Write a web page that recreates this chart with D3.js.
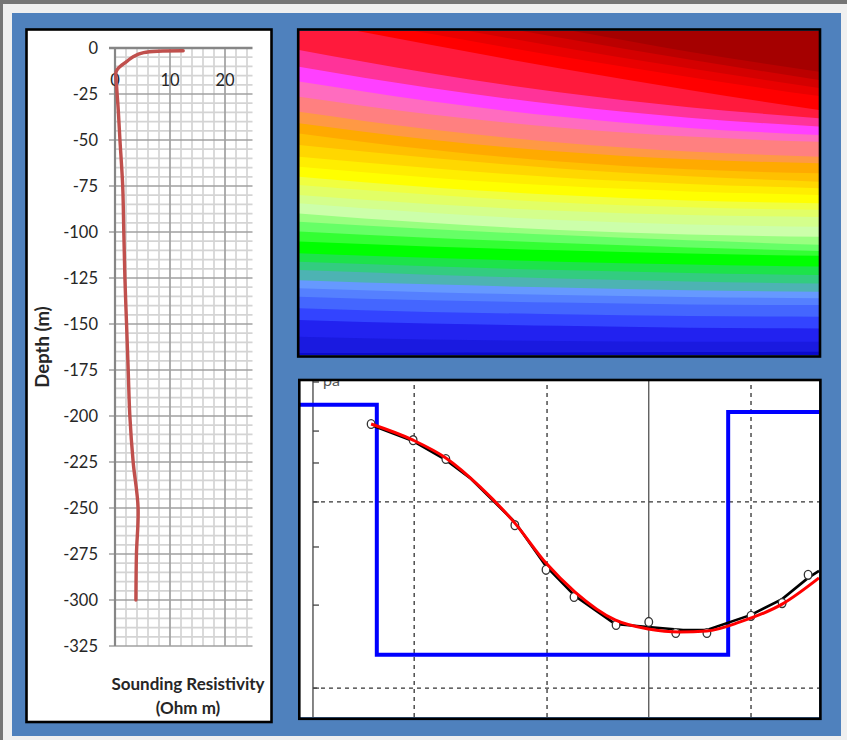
<!DOCTYPE html>
<html><head><meta charset="utf-8">
<script src="https://cdn.jsdelivr.net/npm/d3@7"></script>
<style>html,body{margin:0;padding:0;background:#f0f0f0;} svg{display:block;}</style>
</head><body>
<svg id="c" width="847" height="740"></svg>
<script>
// ---------- Left chart: sounding resistivity vs depth ----------
const soundDepth = [-1.5, -2.5, -4.7, -7.4, -11, -13, -21, -34, -50, -75, -100, -125, -150, -175, -200, -225, -250, -275, -300];
const soundRes   = [12.4, 5.2, 3.3, 2.1, 0.6, 0.2, 0.3, 0.6, 0.9, 1.4, 1.6, 1.8, 2.1, 2.4, 2.7, 3.3, 4.2, 3.9, 3.8];
const depthTicks = [0, -25, -50, -75, -100, -125, -150, -175, -200, -225, -250, -275, -300, -325];
const resTicks = [0, 10, 20];

// ---------- Top-right: pseudo-section colour bands ----------
const sectionX = [0, 25, 50, 75, 100];
const bandColors = ["#a50000","#bb0000","#d40000","#ea0000","#ff0000","#ff1a3c","#ff3399","#ff40ff","#ff6cbf","#ff8080",
  "#ff9944","#ffaa00","#ffc000","#ffd700","#ffee00","#ffff00","#f0ff40","#e2ff66","#d4ff8c","#ccffaa",
  "#99ff80","#66ff66","#33ff33","#00ff00","#1de34a","#33cc80","#4db3b3","#6699ff","#5580ff","#4466ff",
  "#3344ff","#2222f0","#1a1ae0","#0a0acc"];
const bandLower = [
  [-16.2, -8.2, -0.8, 6.4, 12.6],
  [-13.0, -5.2, 2.0, 8.8, 15.1],
  [-9.8, -2.2, 4.9, 11.5, 17.6],
  [-6.6, 0.8, 7.8, 14.2, 20.1],
  [-3.5, 4.2, 11.5, 18.2, 24.4],
  [5.9, 13.0, 18.9, 23.5, 26.9],
  [11.0, 17.5, 22.8, 26.8, 29.5],
  [15.6, 21.6, 26.4, 29.9, 32.1],
  [20.3, 25.7, 29.8, 32.6, 34.2],
  [24.9, 30.3, 34.4, 37.2, 38.8],
  [28.5, 33.5, 37.2, 39.6, 40.8],
  [31.6, 36.6, 40.3, 42.7, 43.9],
  [35.2, 39.1, 42.4, 44.8, 46.5],
  [38.8, 42.3, 45.2, 47.2, 48.5],
  [41.9, 45.2, 47.8, 49.5, 50.6],
  [45.0, 48.2, 50.6, 52.3, 53.2],
  [47.5, 50.5, 52.9, 54.4, 55.2],
  [50.6, 53.4, 55.5, 56.8, 57.4],
  [53.2, 56.1, 58.3, 59.7, 60.4],
  [56.3, 59.2, 61.4, 62.8, 63.5],
  [58.9, 61.1, 63.0, 64.6, 66.0],
  [61.9, 63.8, 65.4, 66.8, 67.9],
  [65.0, 66.5, 67.7, 68.7, 69.4],
  [68.6, 70.0, 71.2, 72.1, 72.7],
  [71.2, 72.6, 73.8, 74.7, 75.3],
  [73.8, 75.2, 76.4, 77.3, 77.9],
  [76.9, 78.2, 79.2, 80.0, 80.5],
  [79.4, 80.6, 81.5, 82.1, 82.5],
  [82.0, 83.1, 83.8, 84.4, 84.6],
  [85.6, 86.7, 87.4, 88.0, 88.2],
  [89.2, 90.3, 91.0, 91.6, 91.8],
  [94.4, 95.2, 95.7, 95.9, 95.9],
  [99.4, 99.3, 99.2, 99.1, 99.0]
];

// ---------- Bottom-right: apparent resistivity curve ----------
const obsX   = [13.7, 21.8, 28.1, 41.4, 47.4, 52.8, 60.9, 67.2, 72.4, 78.4, 86.9, 92.9, 97.9];
const obsRho = [87.2, 82.4, 76.8, 57.1, 43.8, 35.7, 27.4, 28.3, 25.0, 25.0, 30.1, 33.9, 42.3];
const calcX   = [13.7, 21.8, 28.1, 32.8, 41.4, 47.4, 53.0, 60.7, 67.1, 73.8, 78.4, 86.9, 92.9, 97.9, 100];
const calcRho = [86.9, 82.1, 76.5, 71.1, 58.0, 44.9, 36.0, 27.7, 26.8, 25.9, 25.9, 30.4, 35.1, 41.4, 43.5];
const fitX   = [13.7, 21.8, 28.1, 34.7, 41.4, 47.4, 53.0, 60.7, 67.1, 73.2, 78.4, 84.8, 92.9, 100];
const fitRho = [87.2, 82.4, 77.1, 68.5, 57.7, 45.8, 37.2, 28.9, 26.2, 25.3, 25.6, 28.3, 33.6, 41.4];
const modelX   = [0, 14.8, 82.5, 100];
const modelRho = [92.9, 18.5, 90.8, 90.8];
const gridDashX = [22.0, 47.6, 86.9];
const gridSolidX = [67.2];
const gridDashY = [64.0, 8.6];
const rhoTicks = [99.7, 85.1, 75.6, 64.0, 50.6, 33.3, 8.6];

const FONT = "Lato, 'Open Sans', sans-serif";
const svg = d3.select('#c');

// frame
svg.append('rect').attr('width', 847).attr('height', 740).attr('fill', '#f0f0f0');
svg.append('rect').attr('x', 0).attr('y', 0).attr('width', 847).attr('height', 4).attr('fill', '#767676');
svg.append('rect').attr('x', 0).attr('y', 0).attr('width', 3).attr('height', 740).attr('fill', '#767676');
svg.append('rect').attr('x', 12).attr('y', 13).attr('width', 829).attr('height', 723).attr('fill', '#4f81bd');

// ===== Left panel =====
svg.append('rect').attr('x', 26.5).attr('y', 29.5).attr('width', 245).attr('height', 692.5)
  .attr('fill', '#fff').attr('stroke', '#000').attr('stroke-width', 2.6);

const xL = d3.scaleLinear().domain([0, 25]).range([115, 252.5]);
const yL = d3.scaleLinear().domain([-325, 0]).range([646, 48]);
const gL = svg.append('g');

const minorRes = d3.range(0, 25, 2).filter(v => v % 10 !== 0);
const minorDepth = d3.range(-325, 0.1, 5).filter(v => v % 25 !== 0);
gL.selectAll('.mv').data(minorRes).join('line')
  .attr('x1', d => xL(d)).attr('x2', d => xL(d)).attr('y1', yL(0)).attr('y2', yL(-325))
  .attr('stroke', '#d4d4d4').attr('stroke-width', 1.7);
gL.selectAll('.mh').data(minorDepth).join('line')
  .attr('x1', xL(0)).attr('x2', xL(25)).attr('y1', d => yL(d)).attr('y2', d => yL(d))
  .attr('stroke', '#d4d4d4').attr('stroke-width', 1.7);
gL.selectAll('.Mv').data(resTicks.filter(v => v !== 0)).join('line')
  .attr('x1', d => xL(d)).attr('x2', d => xL(d)).attr('y1', yL(0)).attr('y2', yL(-325))
  .attr('stroke', '#a0a0a0').attr('stroke-width', 1.7);
gL.selectAll('.Mh').data(depthTicks.filter(v => v !== 0)).join('line')
  .attr('x1', xL(0) - 6).attr('x2', xL(25)).attr('y1', d => yL(d)).attr('y2', d => yL(d))
  .attr('stroke', '#a0a0a0').attr('stroke-width', 1.7);
// axis lines
gL.append('line').attr('x1', xL(0)).attr('x2', xL(0)).attr('y1', yL(0)).attr('y2', yL(-325))
  .attr('stroke', '#868686').attr('stroke-width', 2.2);
gL.append('line').attr('x1', xL(0) - 6).attr('x2', xL(25)).attr('y1', yL(0)).attr('y2', yL(0))
  .attr('stroke', '#868686').attr('stroke-width', 2.4);

// tick labels
gL.selectAll('.yl').data(depthTicks).join('text')
  .attr('x', 98).attr('y', d => yL(d)).attr('dy', '0.36em').attr('text-anchor', 'end')
  .attr('font-family', FONT).attr('font-size', 16.5).attr('fill', '#262626').text(d => d);
gL.selectAll('.xl').data(resTicks).join('text')
  .attr('x', d => xL(d)).attr('y', 80).attr('dy', '0.36em').attr('text-anchor', 'middle')
  .attr('font-family', FONT).attr('font-size', 16.5).attr('fill', '#262626').text(d => d);

// curve
const soundPts = soundDepth.map((d, i) => ({ d, r: soundRes[i] }));
gL.append('path').datum(soundPts)
  .attr('d', d3.line().x(p => xL(p.r)).y(p => yL(p.d)).curve(d3.curveCatmullRom.alpha(0.5)))
  .attr('fill', 'none').attr('stroke', '#c0504d').attr('stroke-width', 3.4).attr('stroke-linecap', 'round');

// titles
gL.append('text').attr('transform', 'translate(48.5,347) rotate(-90)').attr('text-anchor', 'middle')
  .attr('font-family', FONT).attr('font-weight', 'bold').attr('font-size', 18.5).attr('fill', '#262626')
  .text('Depth (m)');
gL.append('text').attr('x', 188).attr('y', 690).attr('text-anchor', 'middle')
  .attr('font-family', FONT).attr('font-weight', 'bold').attr('font-size', 17).attr('fill', '#262626')
  .text('Sounding Resistivity');
gL.append('text').attr('x', 188).attr('y', 714).attr('text-anchor', 'middle')
  .attr('font-family', FONT).attr('font-weight', 'bold').attr('font-size', 17).attr('fill', '#262626')
  .text('(Ohm m)');

// ===== Top-right heat panel =====
const xH = d3.scaleLinear().domain([0, 100]).range([299, 819]);
const yH = d3.scaleLinear().domain([0, 100]).range([31, 355]);
const defs = svg.append('defs');
defs.append('clipPath').attr('id', 'clipH').append('rect')
  .attr('x', 299).attr('y', 31).attr('width', 520).attr('height', 324);
const gH = svg.append('g').attr('clip-path', 'url(#clipH)');
gH.append('rect').attr('x', 299).attr('y', 31).attr('width', 520).attr('height', 324)
  .attr('fill', bandColors[bandColors.length - 1]);
for (let i = bandLower.length - 1; i >= 0; i--) {
  const pts = sectionX.map((x, j) => ({ x, y: bandLower[i][j] }));
  gH.append('path').datum(pts)
    .attr('d', d3.area().x(p => xH(p.x)).y0(yH(-60)).y1(p => yH(p.y)).curve(d3.curveMonotoneX))
    .attr('fill', bandColors[i]);
}
svg.append('rect').attr('x', 298.2).attr('y', 29.5).attr('width', 521.8).attr('height', 327)
  .attr('fill', 'none').attr('stroke', '#000').attr('stroke-width', 2.6);

// ===== Bottom-right curve panel =====
const xB = d3.scaleLinear().domain([0, 100]).range([300, 819]);
const yB = d3.scaleLinear().domain([0, 100]).range([717, 381]);
defs.append('clipPath').attr('id', 'clipB').append('rect')
  .attr('x', 300).attr('y', 381).attr('width', 519).attr('height', 336);
svg.append('rect').attr('x', 300).attr('y', 381).attr('width', 519).attr('height', 336).attr('fill', '#fff');
const gB = svg.append('g').attr('clip-path', 'url(#clipB)');
const axisX = 2.5;

gB.selectAll('.gdx').data(gridDashX).join('line')
  .attr('x1', d => xB(d)).attr('x2', d => xB(d)).attr('y1', yB(0)).attr('y2', yB(100))
  .attr('stroke', '#333').attr('stroke-width', 1.3).attr('stroke-dasharray', '4,4');
gB.selectAll('.gdy').data(gridDashY).join('line')
  .attr('x1', xB(axisX)).attr('x2', xB(100)).attr('y1', d => yB(d)).attr('y2', d => yB(d))
  .attr('stroke', '#333').attr('stroke-width', 1.3).attr('stroke-dasharray', '4,4');
gB.selectAll('.gsx').data(gridSolidX).join('line')
  .attr('x1', d => xB(d)).attr('x2', d => xB(d)).attr('y1', yB(0)).attr('y2', yB(100))
  .attr('stroke', '#444').attr('stroke-width', 1.2);
gB.append('line').attr('x1', xB(axisX)).attr('x2', xB(axisX)).attr('y1', yB(0)).attr('y2', yB(100))
  .attr('stroke', '#444').attr('stroke-width', 1.3);
gB.selectAll('.rt').data(rhoTicks).join('line')
  .attr('x1', xB(axisX)).attr('x2', xB(axisX) + 6).attr('y1', d => yB(d)).attr('y2', d => yB(d))
  .attr('stroke', '#444').attr('stroke-width', 1.3);
gB.append('text').attr('x', 323).attr('y', 386).attr('font-family', FONT).attr('font-size', 16)
  .attr('fill', '#555').text('ρa');

const modelPts = modelX.map((x, i) => ({ x, y: modelRho[i] }));
gB.append('path').datum(modelPts)
  .attr('d', d3.line().x(p => xB(p.x)).y(p => yB(p.y)).curve(d3.curveStepAfter))
  .attr('fill', 'none').attr('stroke', '#0000ff').attr('stroke-width', 4);
const calcPts = calcX.map((x, i) => ({ x, y: calcRho[i] }));
gB.append('path').datum(calcPts)
  .attr('d', d3.line().x(p => xB(p.x)).y(p => yB(p.y)))
  .attr('fill', 'none').attr('stroke', '#000').attr('stroke-width', 2.6);
const obsPts = obsX.map((x, i) => ({ x, y: obsRho[i] }));
gB.selectAll('.obs').data(obsPts).join('ellipse')
  .attr('cx', p => xB(p.x)).attr('cy', p => yB(p.y)).attr('rx', 3.8).attr('ry', 4.4)
  .attr('fill', '#fff').attr('stroke', '#333').attr('stroke-width', 1.3);
const fitPts = fitX.map((x, i) => ({ x, y: fitRho[i] }));
gB.append('path').datum(fitPts)
  .attr('d', d3.line().x(p => xB(p.x)).y(p => yB(p.y)).curve(d3.curveMonotoneX))
  .attr('fill', 'none').attr('stroke', '#ff0000').attr('stroke-width', 3);

svg.append('rect').attr('x', 299.3).attr('y', 380).attr('width', 521.1).attr('height', 338.8)
  .attr('fill', 'none').attr('stroke', '#000').attr('stroke-width', 2.6);
</script>
</body></html>
